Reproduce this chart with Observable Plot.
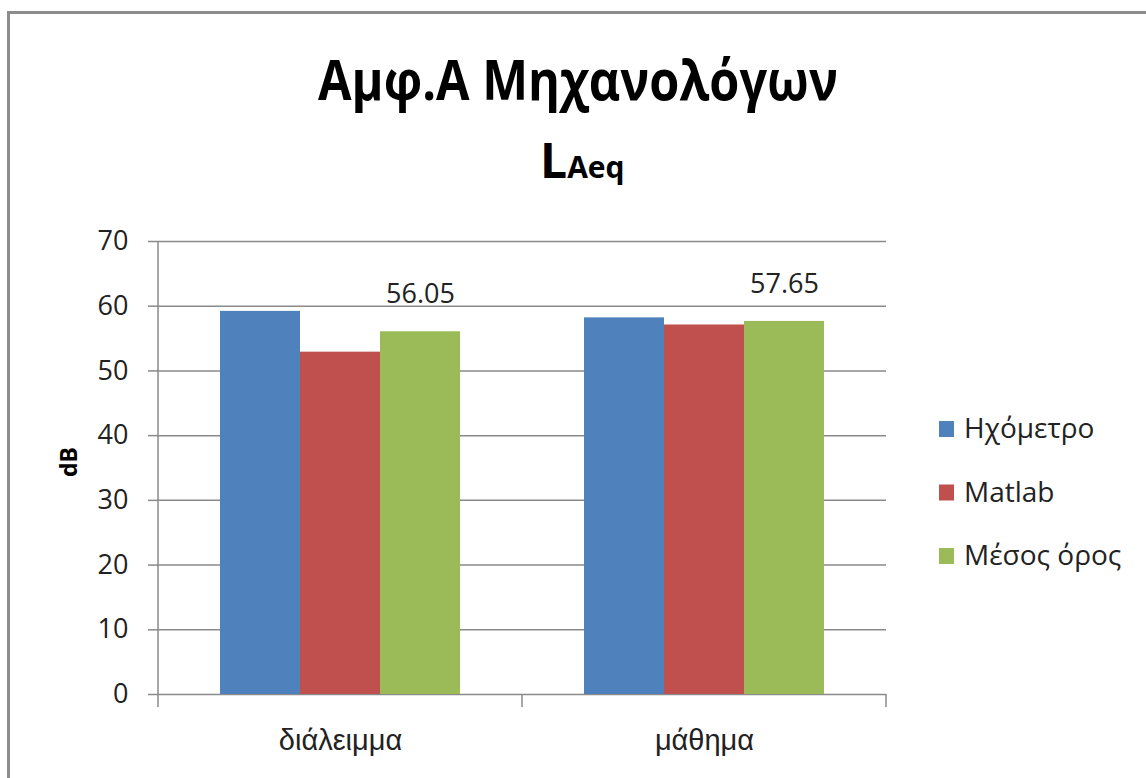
<!DOCTYPE html>
<html><head><meta charset="utf-8">
<script src="https://cdn.jsdelivr.net/npm/d3@7"></script>
<script src="https://cdn.jsdelivr.net/npm/@observablehq/plot@0.6"></script>
<style>
body{margin:0;background:#fff;width:1146px;height:778px;overflow:hidden;position:relative;font-family:"Open Sans",sans-serif;}
#frame{position:absolute;left:7px;top:11px;width:1200px;height:900px;border:3px solid #8c8c8c;box-sizing:border-box;}
#chart{position:absolute;left:0;top:200px;}
#overlay{position:absolute;left:0;top:0;}
</style></head>
<body>
<div id="frame"></div>
<div id="chart"></div>
<svg id="overlay" width="1146" height="778"></svg>
<script>
const titleText = "Αμφ.Α Μηχανολόγων";
const subtitleMain = "L";
const subtitleSub = "Aeq";
const yLabel = "dB";
const categories = ["διάλειμμα", "μάθημα"];
const series = ["Ηχόμετρο", "Matlab", "Μέσος όρος"];
const hxometro = [59.2, 58.2];
const matlab = [52.9, 57.1];
const mesosOros = [56.05, 57.65];
const colors = ["#4F81BD", "#C0504D", "#9BBB59"];
const yTicks = [0, 10, 20, 30, 40, 50, 60, 70];

const valuesBySeries = [hxometro, matlab, mesosOros];
const rows = categories.flatMap((c, i) => series.map((s, j) => ({category: c, series: s, value: valuesBySeries[j][i]})));

const gridColor = "#8a8a8a";
const plot = Plot.plot({
  width: 1146, height: 578,
  marginLeft: 158, marginRight: 260, marginTop: 41, marginBottom: 84,
  style: {fontFamily: '"Open Sans", sans-serif', fontSize: "27px", color: "#222", background: "transparent", overflow: "visible"},
  fx: {domain: categories, padding: 0, label: null},
  x: {domain: series, paddingInner: 0, paddingOuter: 0.747, axis: null},
  y: {domain: [0, 70], label: null},
  color: {domain: series, range: colors},
  marks: [
    Plot.gridY({ticks: yTicks, stroke: gridColor, strokeOpacity: 1, strokeWidth: 1.5}),
    Plot.barY(rows, {fx: "category", x: "series", y: "value", fill: "series"}),
    Plot.text(rows.filter(d => d.series === series[2]), {fx: "category", x: "series", y: "value", text: d => d.value.toFixed(2), dy: -37, fill: "#222", fontSize: 27}),
    Plot.axisY({ticks: yTicks, tickSize: 10, tickPadding: 20, stroke: gridColor, strokeWidth: 1.5, fill: "#222", fontSize: 27, label: null, tickFormat: d => String(d)}),
    Plot.axisFx({anchor: "bottom", tickSize: 0, tickPadding: 35, label: null, fontSize: 29, fill: "#222"})
  ]
});
document.getElementById("chart").appendChild(plot);
d3.select(plot).selectAll('g[aria-label="fx-axis tick label"]')
  .attr("font-family", '"Liberation Sans", Arial, sans-serif');

// axis line and category boundary ticks from the library's scales
const fxs = plot.scale("fx"), ys = plot.scale("y");
const edges = categories.map(c => fxs.apply(c));
edges.push(edges[edges.length - 1] + fxs.bandwidth);
const g = d3.select(plot).append("g").attr("stroke", gridColor).attr("stroke-width", 1.5);
const y0 = ys.apply(0), yTop = ys.apply(70);
g.append("line").attr("x1", edges[0]).attr("x2", edges[0]).attr("y1", yTop).attr("y2", y0 + 13);
edges.slice(1).forEach(x => g.append("line").attr("x1", x).attr("x2", x).attr("y1", y0).attr("y2", y0 + 13));

// titles, axis label, legend
const ov = d3.select("#overlay");
ov.append("text").attr("x", 578).attr("y", 100).attr("text-anchor", "middle")
  .attr("font-size", 56).attr("font-weight", 700).attr("fill", "#000")
  .attr("textLength", 520).attr("lengthAdjust", "spacingAndGlyphs").text(titleText);
const sub = ov.append("text").attr("x", 540).attr("y", 178).attr("fill", "#000").attr("font-weight", 700);
sub.append("tspan").attr("font-size", 48).text(subtitleMain);
sub.append("tspan").attr("font-size", 30).text(subtitleSub);
ov.append("text").attr("transform", "translate(77,462) rotate(-90)").attr("text-anchor", "middle")
  .attr("font-size", 23).attr("font-weight", 700).attr("fill", "#000").text(yLabel);
const leg = ov.append("g");
series.forEach((s, i) => {
  const base = 438 + i * 63.5;
  leg.append("rect").attr("x", 939).attr("y", base - 17).attr("width", 15).attr("height", 16).attr("fill", colors[i]);
  leg.append("text").attr("x", 964).attr("y", base).attr("font-size", 28).attr("fill", "#222").text(s);
});
</script>
</body></html>
